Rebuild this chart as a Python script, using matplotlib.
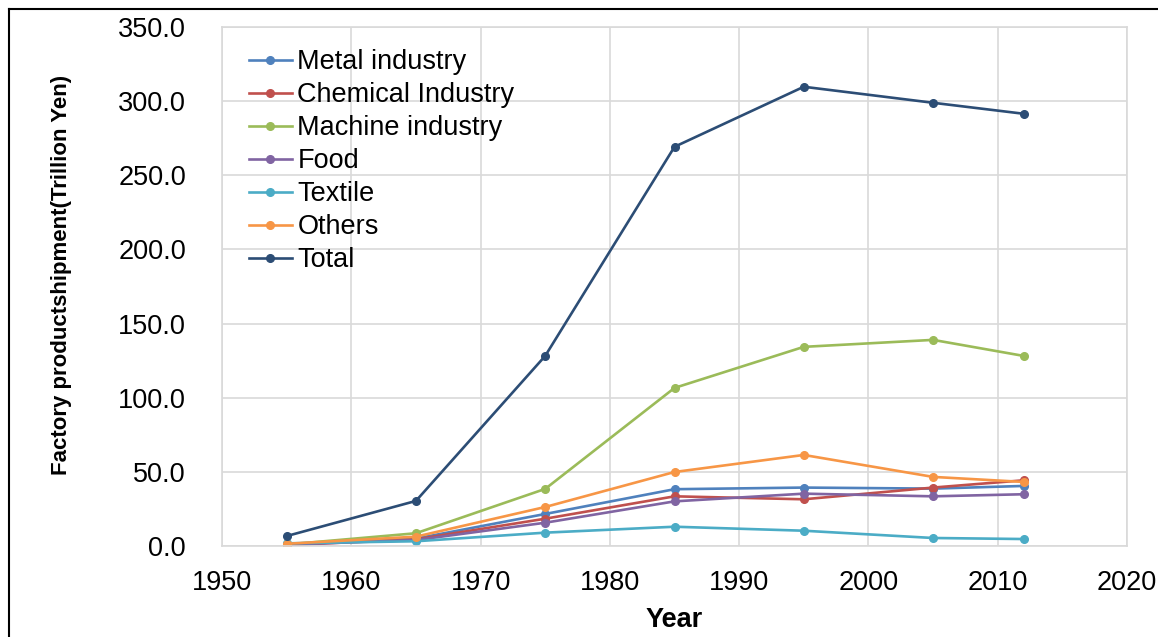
import matplotlib
matplotlib.use('Agg')
import numpy as np
from matplotlib import pyplot as plt
from matplotlib.lines import Line2D

# Survey years
years = [1955, 1965, 1975, 1985, 1995, 2005, 2012]

# Factory product shipment, trillion yen
metal = [1.0, 5.0, 21.6, 38.3, 39.4, 38.7, 40.5]
chemical = [0.6, 4.5, 18.4, 33.5, 31.5, 39.4, 44.3]
machine = [1.0, 8.6, 38.5, 106.6, 134.3, 139.0, 128.2]
food = [1.0, 4.0, 15.7, 30.1, 35.3, 33.5, 34.9]
textile = [1.8, 3.2, 9.0, 13.0, 10.3, 5.4, 4.7]
others = [1.5, 6.3, 26.3, 49.9, 61.4, 46.6, 43.2]
total = [6.7, 30.4, 128.2, 269.2, 309.7, 298.9, 291.5]

series_names = ['Metal industry', 'Chemical Industry', 'Machine industry',
                'Food', 'Textile', 'Others', 'Total']
series_values = [metal, chemical, machine, food, textile, others, total]
series_colors = ['#4F81BD', '#C0504D', '#9BBB59', '#8064A2',
                 '#4BACC6', '#F79646', '#2C4D75']

x_ticks = list(range(1950, 2021, 10))
y_ticks = list(range(0, 351, 50))

plt.rcParams['font.family'] = ['Liberation Sans', 'DejaVu Sans']

fig = plt.figure(figsize=(11.58, 6.37), dpi=100)
ax = fig.add_axes([222 / 1158, 1 - 546 / 637, (1127 - 222) / 1158, (546 - 27) / 637])

for name, vals, col in zip(series_names, series_values, series_colors):
    ax.plot(years, vals, color=col, lw=1.9, marker='o', ms=5.5, label=name)

ax.set_xlim(1950, 2020)
ax.set_ylim(0, 350)
ax.set_xticks(x_ticks)
ax.set_yticks(y_ticks)
ax.set_yticklabels([f'{v:.1f}' for v in y_ticks])
ax.tick_params(axis='both', labelsize=19.5, length=0, colors='black')
ax.tick_params(axis='x', pad=17)
ax.tick_params(axis='y', pad=26)
ax.grid(True, color='#D9D9D9', lw=1.2)
ax.set_axisbelow(True)
for sp in ax.spines.values():
    sp.set_color('#D9D9D9')
    sp.set_linewidth(1.2)

ax.set_xlabel('Year', fontsize=19.5, fontweight='bold', labelpad=8)
ax.set_ylabel('Factory productshipment(Trillion Yen)', fontsize=16,
              fontweight='bold')
ax.yaxis.set_label_coords((72 - 222) / (1127 - 222), 0.523)

ax.legend(loc='upper left', bbox_to_anchor=(0.0055, 0.999), frameon=False,
          fontsize=19.5, labelspacing=0.26, handlelength=1.6, handletextpad=0.2,
          borderaxespad=0.4)

# outer frame (left and top edges visible)
fig.add_artist(Line2D([9 / 1158, 9 / 1158], [0, 1 - 9 / 637], color='black', lw=1.5,
                      transform=fig.transFigure))
fig.add_artist(Line2D([9 / 1158, 1], [1 - 9 / 637, 1 - 9 / 637], color='black', lw=1.5,
                      transform=fig.transFigure))

fig.savefig('out.png', dpi=100)
